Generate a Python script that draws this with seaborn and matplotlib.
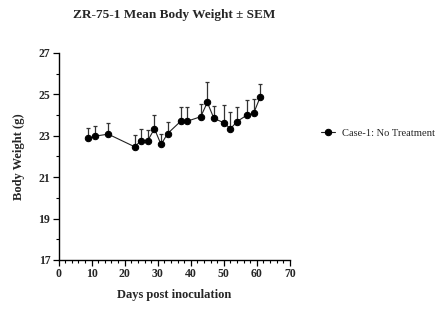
import numpy as np
import pandas as pd
import matplotlib
matplotlib.use("Agg")
import matplotlib.pyplot as plt
from matplotlib.ticker import MultipleLocator, FixedLocator
import seaborn as sns

# Mean body weight per measurement day, with SEM (upper bars only)
days = [9, 11, 15, 23, 25, 27, 29, 31, 33, 37, 39, 43, 45, 47, 50, 52, 54, 57, 59, 61]
mean_weight = [22.87, 22.98, 23.08, 22.47, 22.77, 22.77, 23.34, 22.58, 23.11, 23.71,
               23.71, 23.92, 24.61, 23.84, 23.63, 23.34, 23.69, 24.00, 24.08, 24.87]
sem_weight = [0.53, 0.47, 0.53, 0.55, 0.57, 0.52, 0.64, 0.53, 0.55, 0.66,
              0.66, 0.61, 1.00, 0.60, 0.87, 0.79, 0.68, 0.73, 0.68, 0.61]
group = "Case-1: No Treatment"
y_ticks = [17, 19, 21, 23, 25, 27]
x_ticks = [0, 10, 20, 30, 40, 50, 60, 70]

df = pd.DataFrame({"day": days, "weight": mean_weight, "sem": sem_weight, "group": group})

sns.set_theme(style="ticks")
plt.rcParams["font.family"] = ["Liberation Serif", "DejaVu Serif"]

fig = plt.figure(figsize=(4.44, 3.25), dpi=100)
ax = fig.add_axes([0.132, 0.2, 0.521, 0.637])

ax.errorbar(df["day"], df["weight"], yerr=[np.zeros(len(df)), df["sem"]],
            fmt="none", ecolor="#333333", elinewidth=0.9, capsize=1.6,
            capthick=0.9, zorder=2, clip_on=False)
sns.lineplot(data=df, x="day", y="weight", hue="group", palette=["black"],
             marker="o", markersize=4.6, markeredgecolor="black",
             linewidth=0.8, ax=ax, zorder=3, clip_on=False, legend=True)
for ln in ax.lines:
    ln.set_color("#222222")
    ln.set_markerfacecolor("black")

ax.set_xlim(x_ticks[0], x_ticks[-1])
ax.set_ylim(y_ticks[0], y_ticks[-1])
ax.xaxis.set_major_locator(FixedLocator(x_ticks))
ax.xaxis.set_minor_locator(MultipleLocator(2))
ax.yaxis.set_major_locator(FixedLocator(y_ticks))
ax.yaxis.set_minor_locator(MultipleLocator(1))
ax.tick_params(which="major", length=4, width=0.9, color="black", labelsize=8.5, pad=2)
ax.tick_params(which="minor", length=2.5, width=0.8, color="black")
for lab in ax.get_xticklabels() + ax.get_yticklabels():
    lab.set_fontweight("bold")

for side in ("top", "right"):
    ax.spines[side].set_visible(False)
for side in ("left", "bottom"):
    ax.spines[side].set_linewidth(1.0)
    ax.spines[side].set_color("black")

ax.set_xlabel("Days post inoculation", fontsize=9, fontweight="bold", labelpad=6)
ax.set_ylabel("Body Weight (g)", fontsize=9, fontweight="bold", labelpad=10)
ax.set_title("ZR-75-1 Mean Body Weight \u00b1 SEM", fontsize=9.5, fontweight="bold",
             pad=25)

handles, labels = ax.get_legend_handles_labels()
ax.get_legend().remove()
fig.legend(handles, labels, loc="center left", bbox_to_anchor=(0.722, 0.591),
           frameon=False, fontsize=7.6, handlelength=1.4, handletextpad=0.6,
           borderpad=0, borderaxespad=0)

fig.savefig("out.png", dpi=100)
